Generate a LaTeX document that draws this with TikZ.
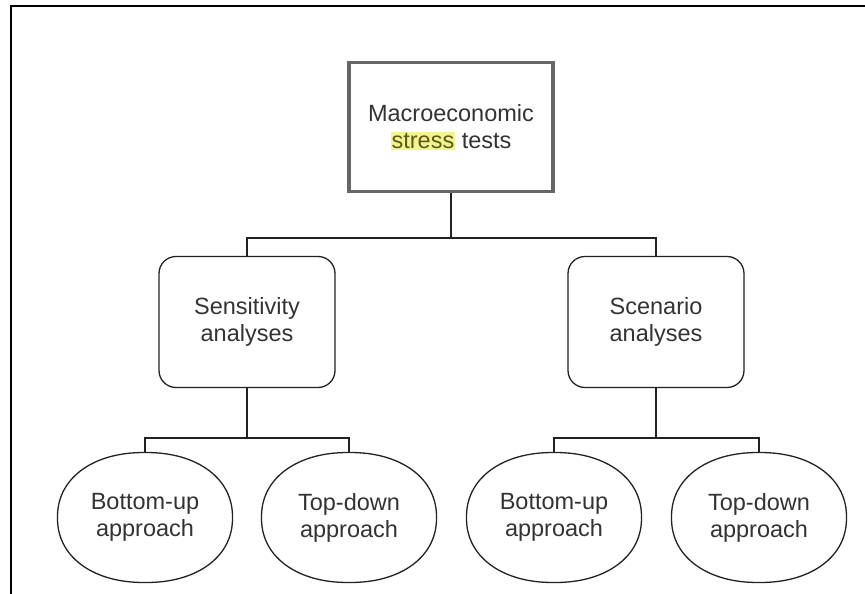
\documentclass[tikz,border=0pt]{standalone}
\usepackage{fontspec}
\setmainfont{Liberation Sans}
\definecolor{txt}{HTML}{333333}
\definecolor{hl}{HTML}{F4F48C}
\definecolor{hltxt}{HTML}{5A5A22}
\definecolor{boxgray}{HTML}{666666}
\definecolor{linegray}{HTML}{222222}
\begin{document}
\begin{tikzpicture}[x=1pt,y=-1pt,
  lbl/.style={align=center,text=txt,font=\fontsize{23.5}{27}\selectfont,inner sep=0pt},
  topbox/.style={lbl,draw=boxgray,line width=3.2pt,minimum width=204pt,minimum height=129pt},
  midbox/.style={lbl,draw=linegray,line width=1.3pt,rounded corners=17pt,minimum width=176pt,minimum height=131pt},
  leafbox/.style={lbl,minimum width=175pt,minimum height=130pt},
  leafline/.style={draw=linegray,line width=1.3pt},
  conn/.style={draw=linegray,line width=2pt},
  frame/.style={draw=black,line width=2.2pt}]
\useasboundingbox (0,0) rectangle (865,594);
\draw[frame] (866,6) -- (11,6) -- (11,595);

\node[topbox] (top) at (451,127) {Macroeconomic\\{\setlength\fboxsep{1pt}\colorbox{hl}{\textcolor{hltxt}{stress}}} tests};
\node[midbox] (sens) at (247,322) {Sensitivity\\analyses};
\node[midbox] (scen) at (656,322) {Scenario\\analyses};
\node[leafbox] (b1) at (145,517.5) {Bottom-up\\approach};
\node[leafbox] (t1) at (349,517.5) {Top-down\\approach};
\node[leafbox] (b2) at (554,517.5) {Bottom-up\\approach};
\node[leafbox] (t2) at (759,517.5) {Top-down\\approach};

% superellipse outlines of the leaf nodes
\foreach \n in {b1,t1,b2,t2}{
  \draw[leafline,shift={(\n.center)}] plot[domain=0:360,samples=240]
    ({87.5*sign(cos(\x))*pow(abs(cos(\x)),0.92)},{65*sign(sin(\x))*pow(abs(sin(\x)),0.92)}) -- cycle;
}

\coordinate (j0) at (451,238);
\coordinate (j1) at (247,438);
\coordinate (j2) at (656,438);

\draw[conn] (top.south) -- (j0);
\draw[conn] (sens.north) -- (sens.north |- j0) -- (scen.north |- j0) -- (scen.north);
\draw[conn] (sens.south) -- (j1);
\draw[conn] (b1.north) -- (b1.north |- j1) -- (t1.north |- j1) -- (t1.north);
\draw[conn] (scen.south) -- (j2);
\draw[conn] (b2.north) -- (b2.north |- j2) -- (t2.north |- j2) -- (t2.north);
\end{tikzpicture}
\end{document}
